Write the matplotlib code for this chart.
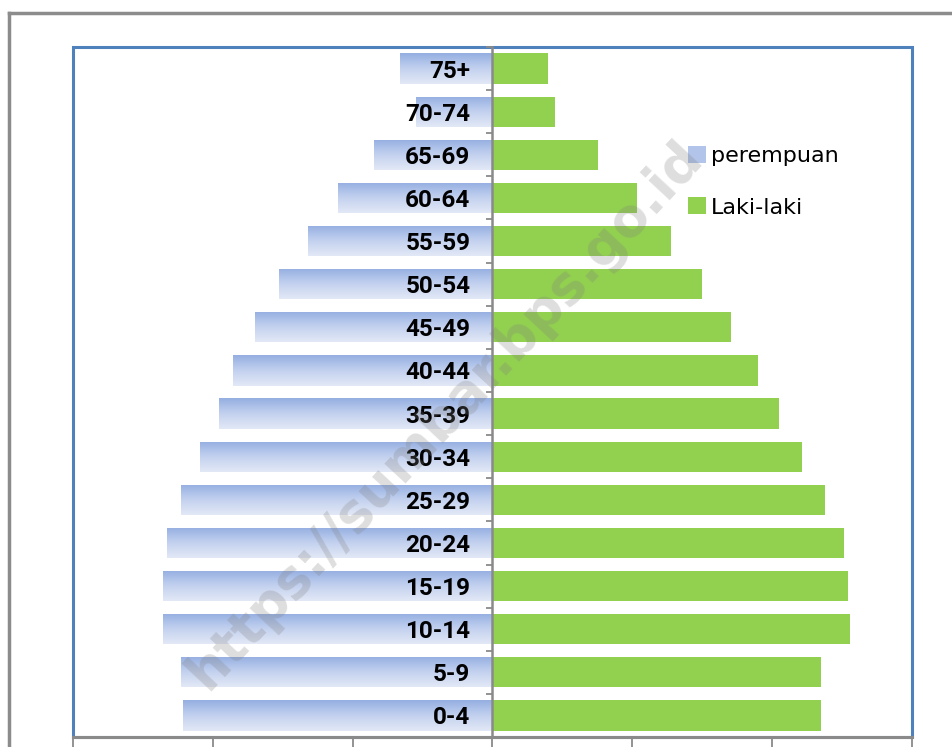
import numpy as np
import matplotlib
matplotlib.use("Agg")
import matplotlib.pyplot as plt
from matplotlib.lines import Line2D
from matplotlib.patches import Rectangle, Patch
from matplotlib.colors import LinearSegmentedColormap

# ---- data (bottom to top) ----
age_groups = ["0-4", "5-9", "10-14", "15-19", "20-24", "25-29", "30-34", "35-39",
              "40-44", "45-49", "50-54", "55-59", "60-64", "65-69", "70-74", "75+"]
perempuan = [44.3, 44.6, 47.1, 47.1, 46.6, 44.6, 41.9, 39.1,
             37.1, 33.9, 30.6, 26.4, 22.1, 16.9, 10.9, 13.3]
laki_laki = [47.0, 47.0, 51.1, 50.9, 50.3, 47.6, 44.3, 41.0,
             38.0, 34.1, 30.0, 25.6, 20.7, 15.1, 8.9, 8.0]
x_ticks = [-60, -40, -20, 0, 20, 40, 60]

W, H = 952, 747
fig = plt.figure(figsize=(W / 100, H / 100), dpi=100)
ax = fig.add_axes([73 / W, 10 / H, 839 / W, 690 / H])
ax.set_axisbelow(False)

y = np.arange(len(age_groups))
green = "#92d050"
bars_l = ax.barh(y, [-v for v in perempuan], height=0.7, color="none", edgecolor="none", zorder=2)
bars_r = ax.barh(y, laki_laki, height=0.7, color=green, edgecolor="none", zorder=2)

# vertical gradient for left bars
cmap = LinearSegmentedColormap.from_list("g", ["#95afe1", "#c3d1ef", "#e2e8f6"])
grad = np.linspace(0, 1, 64).reshape(-1, 1)
for b in bars_l:
    x0, y0 = b.get_x(), b.get_y()
    w, h = b.get_width(), b.get_height()
    im = ax.imshow(grad, cmap=cmap, aspect="auto", origin="upper",
                   extent=(min(x0, x0 + w), max(x0, x0 + w), y0, y0 + h),
                   zorder=2, interpolation="bilinear")
    im.set_clip_path(b)

ax.set_xlim(-60, 60)
ax.set_ylim(-0.5, len(age_groups) - 0.5)

# center axis
ax.spines["left"].set_position(("data", 0))
ax.spines["left"].set_color("#8a8a8a")
ax.spines["left"].set_linewidth(1.8)
ax.spines["left"].set_zorder(3)
ax.spines["bottom"].set_color("#8a8a8a")
ax.spines["bottom"].set_linewidth(2.2)
for s in ["top", "right"]:
    ax.spines[s].set_visible(False)

# blue frame
ax.add_patch(Rectangle((0, 0), 1, 1, transform=ax.transAxes, fill=False,
                       edgecolor="#4f81bd", linewidth=2.2, zorder=1, clip_on=False))

ax.set_yticks(np.arange(-0.5, len(age_groups), 1.0))
ax.set_yticklabels([])
ax.set_yticks(y, minor=True)
ax.set_yticklabels(age_groups, minor=True,
                   fontdict=dict(family=["Roboto", "DejaVu Sans"],
                                 weight="bold", size=17.5))
ax.tick_params(axis="y", which="major", direction="out", length=4, width=1.3, color="#8a8a8a")
ax.tick_params(axis="y", which="minor", length=0, pad=16)

ax.set_xticks(x_ticks)
ax.tick_params(axis="x", direction="out", length=10, width=1.3, color="#8a8a8a", labelbottom=False)

# legend
handles = [Patch(facecolor="#b3c4ea", edgecolor="none", label="perempuan"),
           Patch(facecolor=green, edgecolor="none", label="Laki-laki")]
leg = ax.legend(handles=handles, loc="upper left", bbox_to_anchor=((688 - 73) / 839, (737 - 146) / 690),
                frameon=False, fontsize=16, handlelength=0.8, handleheight=0.8,
                handletextpad=0.25, labelspacing=1.4, borderaxespad=0, borderpad=0)

# outer gray border
fig.add_artist(Line2D([9 / W, 1], [1 - 13 / H, 1 - 13 / H], color="#8c8c8c", lw=2.5))
fig.add_artist(Line2D([9 / W, 9 / W], [0, 1 - 13 / H], color="#8c8c8c", lw=2.5))

# watermark
fig.text(445 / W, 1 - 415 / H, "https://sumbar.bps.go.id", rotation=47,
         ha="center", va="center", fontsize=38, fontweight="bold",
         color="#7f7f7f", alpha=0.26, family="DejaVu Sans", zorder=10)

fig.savefig("out.png", dpi=100)
